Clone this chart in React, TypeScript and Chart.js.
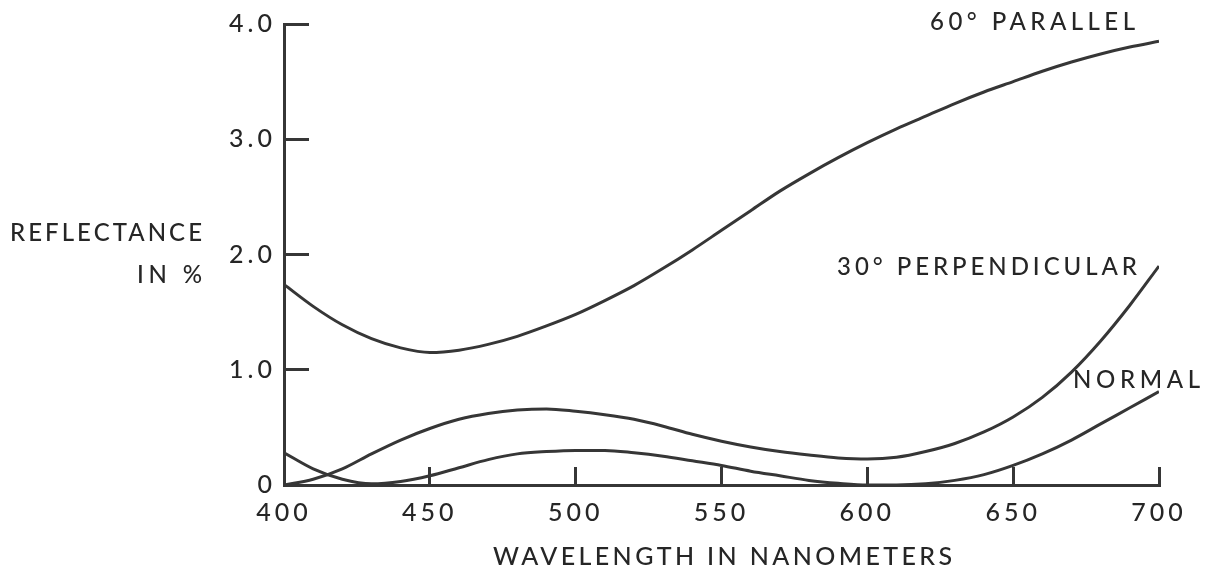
import React, { useEffect, useRef } from 'react';
import { Chart, registerables } from 'chart.js';

Chart.register(...registerables);

// ---- data ----
const wavelengths = [
  400, 410, 420, 430, 440, 450, 460, 470, 480, 490, 500,
  510, 520, 530, 540, 550, 560, 570, 580, 590, 600,
  610, 620, 630, 640, 650, 660, 670, 680, 690, 700,
];
const parallel60 = [
  1.74, 1.55, 1.39, 1.27, 1.19, 1.15, 1.17, 1.22, 1.29, 1.38, 1.48,
  1.60, 1.73, 1.88, 2.04, 2.21, 2.38, 2.55, 2.70, 2.84, 2.97,
  3.09, 3.20, 3.31, 3.41, 3.50, 3.59, 3.67, 3.74, 3.80, 3.85,
];
const perpendicular30 = [
  0.00, 0.05, 0.14, 0.27, 0.39, 0.49, 0.57, 0.62, 0.65, 0.66, 0.64,
  0.61, 0.57, 0.51, 0.44, 0.38, 0.33, 0.29, 0.26, 0.235, 0.225,
  0.24, 0.29, 0.36, 0.46, 0.59, 0.76, 0.98, 1.25, 1.56, 1.90,
];
const normal = [
  0.28, 0.14, 0.05, 0.01, 0.03, 0.08, 0.15, 0.22, 0.27, 0.29, 0.30,
  0.30, 0.28, 0.25, 0.21, 0.17, 0.12, 0.08, 0.04, 0.015, 0.00,
  0.00, 0.01, 0.04, 0.09, 0.17, 0.27, 0.39, 0.53, 0.67, 0.81,
];
const xTicks = [400, 450, 500, 550, 600, 650, 700];
const yTicks = [0, 1, 2, 3, 4];
const yTickLabels = ['0', '1.0', '2.0', '3.0', '4.0'];
const seriesLabels = ['60° PARALLEL', '30° PERPENDICULAR', 'NORMAL'];
const xTitle = 'WAVELENGTH IN NANOMETERS';
const yTitle = ['REFLECTANCE', 'IN %'];

const FONT = 'Lato, "DejaVu Sans", sans-serif';
const WEIGHT = 500;
const INK = '#262626';
const LINE = '#363636';

function drawSpaced(ctx: CanvasRenderingContext2D, text: string, left: number, baseline: number, width: number, size: number) {
  ctx.font = `${WEIGHT} ${size}px ${FONT}`;
  (ctx as any).letterSpacing = '0px';
  const w = ctx.measureText(text).width;
  const n = Array.from(text).length;
  const s = n > 1 ? Math.max(0, (width - w) / (n - 1)) : 0;
  (ctx as any).letterSpacing = `${s}px`;
  ctx.textAlign = 'left';
  ctx.textBaseline = 'alphabetic';
  ctx.fillText(text, left, baseline);
  (ctx as any).letterSpacing = '0px';
}

const textPlugin = {
  id: 'reflectanceText',
  beforeDraw(chart: any) {
    (chart.ctx as any).letterSpacing = '4px';
  },
  afterDraw(chart: any) {
    const ctx: CanvasRenderingContext2D = chart.ctx;
    ctx.save();
    (ctx as any).letterSpacing = '0px';
    ctx.fillStyle = INK;
    drawSpaced(ctx, yTitle[0], 10, 241, 192, 24);
    drawSpaced(ctx, yTitle[1], 137, 283, 65, 24);
    drawSpaced(ctx, xTitle, 493, 565, 459, 25);
    drawSpaced(ctx, seriesLabels[0], 930, 30, 205, 24);
    drawSpaced(ctx, seriesLabels[1], 837, 275, 300, 24);
    drawSpaced(ctx, seriesLabels[2], 1073, 388, 127, 24);
    ctx.restore();
  },
};

export default function App() {
  const ref = useRef<HTMLCanvasElement>(null);

  useEffect(() => {
    const canvas = ref.current;
    if (!canvas) return;
    const mk = (vals: number[]) => wavelengths.map((w, i) => ({ x: w, y: vals[i] }));
    const ds = (label: string, vals: number[]) => ({
      label,
      data: mk(vals),
      borderColor: LINE,
      borderWidth: 3,
      pointRadius: 0,
      fill: false,
      cubicInterpolationMode: 'monotone' as const,
    });

    const chart = new Chart(canvas, {
      type: 'line',
      data: {
        datasets: [
          ds(seriesLabels[0], parallel60),
          ds(seriesLabels[1], perpendicular30),
          ds(seriesLabels[2], normal),
        ],
      },
      options: {
        responsive: false,
        animation: false,
        layout: { padding: { left: 0, top: 24, right: 51, bottom: 40 } },
        plugins: {
          legend: { display: false },
          tooltip: { enabled: false },
          title: { display: false },
        },
        scales: {
          x: {
            type: 'linear',
            min: 400,
            max: 700,
            afterBuildTicks: (s: any) => {
              s.ticks = xTicks.map((v) => ({ value: v }));
            },
            afterFit: (s: any) => {
              s.height = 50;
              s.paddingLeft = 0;
              s.paddingRight = 0;
              s.paddingTop = 0;
              s.paddingBottom = 0;
            },
            grid: {
              drawOnChartArea: false,
              drawTicks: true,
              tickLength: -18,
              lineWidth: 3,
              color: LINE,
            },
            border: { display: true, width: 3, color: LINE },
            ticks: {
              padding: 31,
              autoSkip: false,
              maxRotation: 0,
              color: INK,
              font: { family: FONT, size: 25, weight: WEIGHT as any },
              callback: (v: any) => String(v),
            },
          },
          y: {
            type: 'linear',
            min: 0,
            max: 4,
            afterBuildTicks: (s: any) => {
              s.ticks = yTicks.map((v) => ({ value: v }));
            },
            afterFit: (s: any) => {
              s.width = 284;
              s.paddingLeft = 0;
              s.paddingRight = 0;
              s.paddingTop = 0;
              s.paddingBottom = 0;
            },
            grid: {
              drawOnChartArea: false,
              drawTicks: true,
              tickLength: -25,
              lineWidth: 3,
              color: LINE,
            },
            border: { display: true, width: 3, color: LINE },
            ticks: {
              padding: 33,
              color: INK,
              font: { family: FONT, size: 25, weight: WEIGHT as any },
              callback: (v: any) => {
                const i = yTicks.indexOf(Number(v));
                return i >= 0 ? yTickLabels[i] : '';
              },
            },
          },
        },
      },
      plugins: [textPlugin],
    });

    return () => chart.destroy();
  }, []);

  return (
    <div style={{ position: 'absolute', left: 0, top: 0, width: 1210, height: 575, background: '#fff' }}>
      <canvas ref={ref} width={1210} height={575} style={{ display: 'block' }} />
    </div>
  );
}
